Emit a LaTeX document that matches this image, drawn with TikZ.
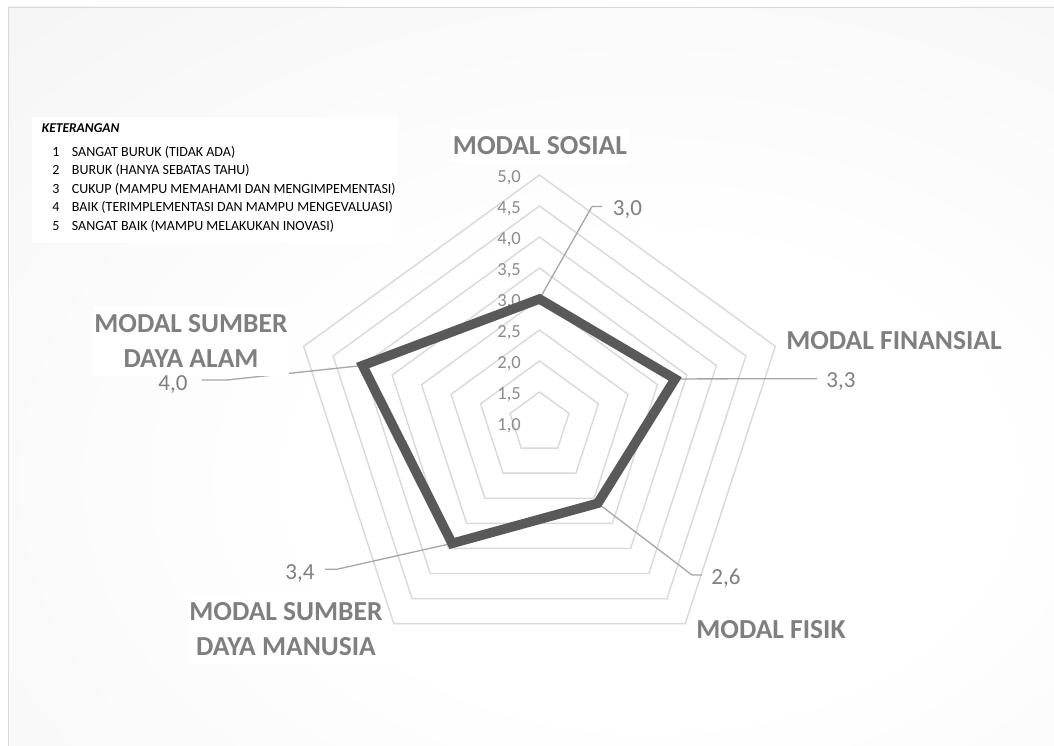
\documentclass[tikz,border=0pt]{standalone}
\usepackage{fontspec}
\setmainfont{Carlito}
\usetikzlibrary{calc}
\definecolor{gridcol}{RGB}{217,217,217}
\definecolor{datacol}{RGB}{89,89,89}
\definecolor{leadcol}{RGB}{166,166,166}
\definecolor{catcol}{RGB}{127,127,127}
\definecolor{axcol}{RGB}{140,140,140}
\definecolor{bggray}{RGB}{234,234,234}
\definecolor{bordcol}{RGB}{217,217,217}
\pgfdeclareradialshading{bgshade}{\pgfpoint{0bp}{0bp}}{color(0bp)=(white); color(10bp)=(white); color(50bp)=(bggray)}
\tikzset{
  gridline/.style={draw=gridcol, line width=1.4pt, line join=miter},
  dataline/.style={draw=datacol, line width=9.5pt, line join=miter, miter limit=10},
  leader/.style={draw=leadcol, line width=1.3pt},
  catlab/.style={font=\fontsize{27.5}{35}\selectfont\bfseries, text=catcol, fill=white, inner xsep=1.5pt, inner ysep=8pt, align=center},
  datalab/.style={font=\fontsize{23}{27}\selectfont, text=catcol, inner sep=0pt, anchor=base},
  axlab/.style={font=\fontsize{18.5}{22}\selectfont, text=axcol, inner sep=0pt, anchor=base east},
  legnum/.style={font=\fontsize{14}{17}\selectfont, inner sep=0pt, anchor=base},
  legtxt/.style={font=\fontsize{14}{17}\selectfont, inner sep=0pt, anchor=base west},
  leghead/.style={font=\fontsize{13.5}{16}\selectfont\bfseries\itshape, inner sep=0pt, anchor=base west},
}
\begin{document}
\begin{tikzpicture}[x=1pt,y=-1pt]
\useasboundingbox (0,0) rectangle (1054,746);
% background
\fill[white] (0,0) rectangle (1054,746);
\fill[bggray] (8,7) rectangle (1054,746);
\begin{scope}
  \clip (8,7) rectangle (1054,746);
  \shade[shading=bgshade] (-200,-100) rectangle (1500,1060);
\end{scope}
\draw[bordcol, line width=1.8pt] (8.5,746) -- (8.5,7.5) -- (1054,7.5);

% radar grid
\coordinate (O) at (539.5,423);
\foreach \k in {1,...,8}{
  \pgfmathsetmacro\r{31*\k}
  \draw[gridline] ($(O)+(-90:\r)$) -- ($(O)+(-18:\r)$) -- ($(O)+(54:\r)$) -- ($(O)+(126:\r)$) -- ($(O)+(198:\r)$) -- cycle;
}

% axis labels
\node[axlab] (a10) at (521,430.5) {1,0};
\node[axlab] (a15) at (521,399.5) {1,5};
\node[axlab] (a20) at (521,368.5) {2,0};
\node[axlab] (a25) at (521,337.5) {2,5};
\node[axlab] (a30) at (521,306.5) {3,0};
\node[axlab] (a35) at (521,275.5) {3,5};
\node[axlab] (a40) at (521,244.5) {4,0};
\node[axlab] (a45) at (521,213.5) {4,5};
\node[axlab] (a50) at (521,182.5) {5,0};

% data points
\coordinate (pS) at ($(O)+(-90:124)$);
\coordinate (pF) at ($(O)+(-18:142.6)$);
\coordinate (pK) at ($(O)+(54:99.2)$);
\coordinate (pM) at ($(O)+(126:148.8)$);
\coordinate (pA) at ($(O)+(198:186)$);

% leader line elbows / ends
\coordinate (lS1) at (592,206.5);
\coordinate (lS2) at (602,206.5);
\coordinate (lF1) at (817,378.7);
\coordinate (lK1) at (692,575);
\coordinate (lK2) at (702,575);
\coordinate (lM1) at (336.7,569.3);
\coordinate (lM2) at (325,569.3);
\coordinate (lA1) at (226.7,380);
\coordinate (lA2) at (201.7,380);

\draw[leader] (pS) -- (lS1) -- (lS2);
\draw[leader] (pF) -- (lF1);
\draw[leader] (pK) -- (lK1) -- (lK2);
\draw[leader] (pM) -- (lM1) -- (lM2);
\draw[leader] (pA) -- (lA1) -- (lA2);

% data polygon
\draw[dataline] (pS) -- (pF) -- (pK) -- (pM) -- (pA) -- cycle;

% category labels
\node[catlab] (cS) at (540,146) {MODAL SOSIAL};
\node[catlab] (cF) at (894,341) {MODAL FINANSIAL};
\node[catlab] (cK) at (771,630) {MODAL FISIK};
\node[catlab] (cM) at (286,629) {MODAL SUMBER\\DAYA MANUSIA};
\node[catlab] (cA) at (191,341) {MODAL SUMBER\\DAYA ALAM};

% data labels
\node[datalab] (dS) at (627.5,215) {3,0};
\node[datalab] (dF) at (841,387.3) {3,3};
\node[datalab] (dK) at (726,584.3) {2,6};
\node[datalab] (dM) at (300,579) {3,4};
\node[datalab] (dA) at (173,390.7) {4,0};

% legend
\fill[white] (32,117) rectangle (398,243);
\node[leghead] (lgT) at (41.7,132.7) {KETERANGAN};
\node[legnum] (lg1n) at (56,156.7) {1};
\node[legtxt] (lg1) at (71.7,156.7) {SANGAT BURUK (TIDAK ADA)};
\node[legnum] (lg2n) at (56,175) {2};
\node[legtxt] (lg2) at (71.7,175) {BURUK (HANYA SEBATAS TAHU)};
\node[legnum] (lg3n) at (56,193.3) {3};
\node[legtxt] (lg3) at (71.7,193.3) {CUKUP (MAMPU MEMAHAMI DAN MENGIMPEMENTASI)};
\node[legnum] (lg4n) at (56,211.7) {4};
\node[legtxt] (lg4) at (71.7,211.7) {BAIK (TERIMPLEMENTASI DAN MAMPU MENGEVALUASI)};
\node[legnum] (lg5n) at (56,230) {5};
\node[legtxt] (lg5) at (71.7,230) {SANGAT BAIK (MAMPU MELAKUKAN INOVASI)};
\end{tikzpicture}
\end{document}
